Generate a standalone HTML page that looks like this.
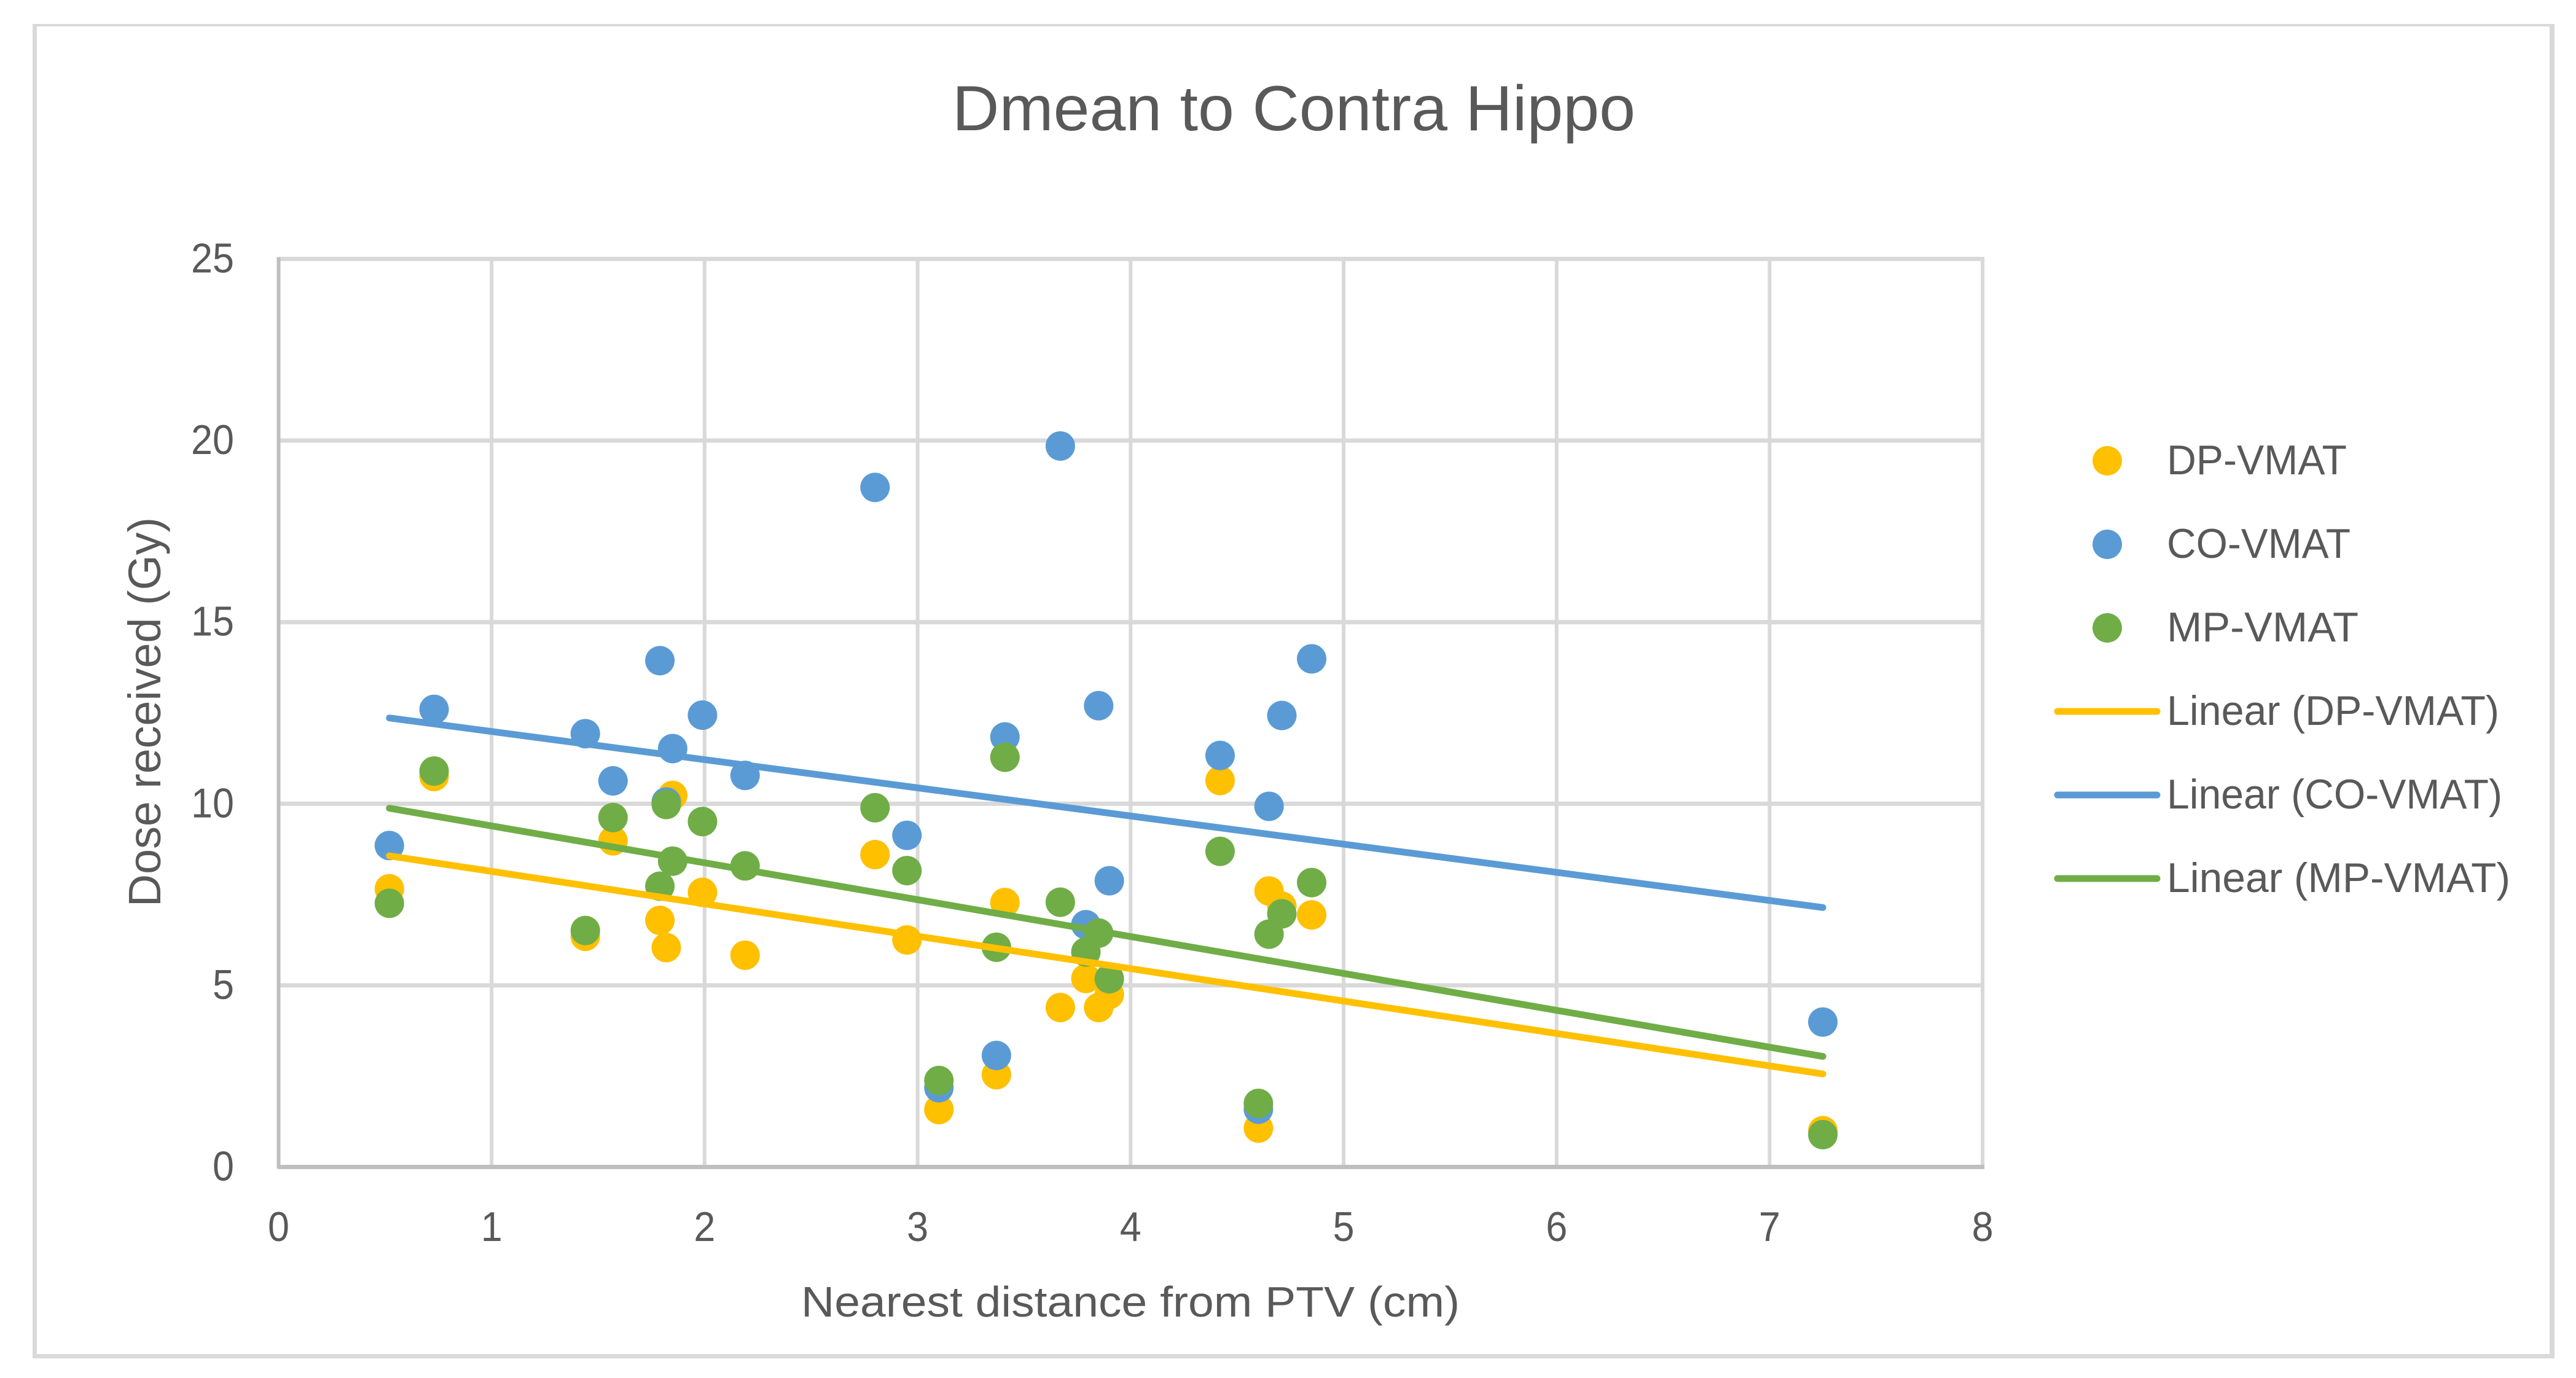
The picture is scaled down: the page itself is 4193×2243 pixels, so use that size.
<!DOCTYPE html>
<html lang="en">
<head>
<meta charset="utf-8">
<title>Dmean to Contra Hippo</title>
<style>
  html, body { margin: 0; padding: 0; background: #ffffff; }
  svg { display: block; }
  text { font-family: "Liberation Sans", sans-serif; fill: #595959; }
</style>
</head>
<body>
<svg id="chart" xmlns="http://www.w3.org/2000/svg" width="4193" height="2243" viewBox="0 0 4193 2243">
  <rect x="0" y="0" width="4193" height="2243" fill="#ffffff"></rect>
  <g>
    <rect x="53" y="39" width="4105" height="4" fill="#d9d9d9"></rect>
    <rect x="53" y="39" width="7" height="2172" fill="#d9d9d9"></rect>
    <rect x="4150" y="39" width="8" height="2172" fill="#d9d9d9"></rect>
    <rect x="53" y="2204" width="4105" height="7" fill="#d9d9d9"></rect>
  </g>
  <text x="2106" y="212" font-size="104" text-anchor="middle" textLength="1112" lengthAdjust="spacingAndGlyphs">Dmean to Contra Hippo</text>
  <g id="grid"></g>
  <g id="axes"></g>
  <g id="series"></g>
  <g id="trends"></g>
  <text transform="translate(261 1159) rotate(-90)" font-size="74" text-anchor="middle" textLength="634" lengthAdjust="spacingAndGlyphs">Dose received (Gy)</text>
  <text x="1840" y="2143" font-size="70" text-anchor="middle" textLength="1072" lengthAdjust="spacingAndGlyphs">Nearest distance from PTV (cm)</text>
  <g id="legend"></g>
</svg>
<script>
const xTicks = [0, 1, 2, 3, 4, 5, 6, 7, 8];
const yTicks = [0, 5, 10, 15, 20, 25];
const distances = [0.52, 0.73, 1.44, 1.57, 1.79, 1.82, 1.85, 1.99, 2.19, 2.80, 2.95, 3.10, 3.37, 3.41, 3.67, 3.79, 3.85, 3.90, 4.42, 4.60, 4.65, 4.71, 4.85, 7.25];
const dpVmat = [7.66, 10.75, 6.35, 8.98, 6.79, 6.04, 10.23, 7.56, 5.83, 8.60, 6.25, 1.58, 2.54, 7.28, 4.39, 5.19, 4.39, 4.75, 10.64, 1.07, 7.60, 7.18, 6.94, 1.00];
const coVmat = [8.85, 12.60, 11.93, 10.63, 13.94, 10.05, 11.52, 12.44, 10.78, 18.71, 9.13, 2.18, 3.07, 11.84, 19.85, 6.67, 12.70, 7.88, 11.33, 1.59, 9.93, 12.43, 13.99, 3.99];
const mpVmat = [7.26, 10.90, 6.51, 9.62, 7.73, 9.98, 8.42, 9.51, 8.29, 9.89, 8.16, 2.38, 6.05, 11.28, 7.29, 5.92, 6.44, 5.18, 8.69, 1.75, 6.41, 6.97, 7.83, 0.89];
const seriesNames = ["DP-VMAT", "CO-VMAT", "MP-VMAT"];
const legendLabels = ["DP-VMAT", "CO-VMAT", "MP-VMAT", "Linear (DP-VMAT)", "Linear (CO-VMAT)", "Linear (MP-VMAT)"];

const SVG_NS = "http://www.w3.org/2000/svg";
const COLORS = ["#FFC000", "#5B9BD5", "#70AD47"];
const LEGEND_WIDTHS = [290, 296, 309, 538, 543, 556];
const xOf = function (v) { return 453.5 + 346.7 * v; };
const yOf = function (v) { return 1899.5 - 59.12 * v; };

function make(tag, attrs, parent, text) {
  const el = document.createElementNS(SVG_NS, tag);
  Object.keys(attrs).forEach(function (k) { el.setAttribute(k, attrs[k]); });
  if (text !== undefined) { el.textContent = text; }
  parent.appendChild(el);
  return el;
}

function regression(xs, ys) {
  const n = xs.length;
  let sx = 0, sy = 0, sxy = 0, sxx = 0;
  for (let i = 0; i < n; i++) {
    sx += xs[i]; sy += ys[i]; sxy += xs[i] * ys[i]; sxx += xs[i] * xs[i];
  }
  const slope = (n * sxy - sx * sy) / (n * sxx - sx * sx);
  const intercept = (sy - slope * sx) / n;
  return { slope: slope, intercept: intercept };
}

const gridG = document.getElementById("grid");
const axesG = document.getElementById("axes");
const seriesG = document.getElementById("series");
const trendsG = document.getElementById("trends");
const legendG = document.getElementById("legend");

xTicks.forEach(function (t) {
  if (t !== xTicks[0]) {
    const line = make("line", { x1: xOf(t), x2: xOf(t), y1: yOf(25), y2: yOf(0), stroke: "#d9d9d9", "stroke-width": 6 }, gridG);
    
    
  }
  const label = make("text", { x: xOf(t), y: 2020, "font-size": 68, "text-anchor": "middle", textLength: 35, lengthAdjust: "spacingAndGlyphs" }, axesG, String(t));
  
  
});

yTicks.forEach(function (t) {
  if (t !== yTicks[0]) {
    const line = make("line", { x1: xOf(0), x2: xOf(8) + 3, y1: yOf(t), y2: yOf(t), stroke: "#d9d9d9", "stroke-width": 7 }, gridG);
    
    
  }
  const s = String(t);
  const label = make("text", { x: 381, y: yOf(t) + 22, "font-size": 68, "text-anchor": "end", textLength: 35 * s.length, lengthAdjust: "spacingAndGlyphs" }, axesG, s);
  
  
});

const yAxisLine = make("line", { x1: xOf(0), x2: xOf(0), y1: yOf(25) - 3, y2: yOf(0) + 3, stroke: "#bfbfbf", "stroke-width": 6 }, axesG);


const xAxisLine = make("line", { x1: xOf(0), x2: xOf(8) + 3, y1: yOf(0), y2: yOf(0), stroke: "#bfbfbf", "stroke-width": 7 }, axesG);



[dpVmat, coVmat, mpVmat].forEach(function (values, si) {
  const g = make("g", { fill: COLORS[si] }, seriesG);
  
  
  values.forEach(function (v, i) {
    const dot = make("circle", { cx: xOf(distances[i]), cy: yOf(v), r: 24 }, g);
    
    
  });
});

[dpVmat, coVmat, mpVmat].forEach(function (values, si) {
  const fit = regression(distances, values);
  const x0 = Math.min.apply(null, distances);
  const x1 = Math.max.apply(null, distances);
  const line = make("line", {
    x1: xOf(x0), y1: yOf(fit.slope * x0 + fit.intercept),
    x2: xOf(x1), y2: yOf(fit.slope * x1 + fit.intercept),
    stroke: COLORS[si], "stroke-width": 11, "stroke-linecap": "round"
  }, trendsG);
  
  
});

legendLabels.forEach(function (name, i) {
  const cy = 750 + 136 * i;
  const entry = make("g", {}, legendG);
  
  
  if (i < 3) {
    const swatch = make("circle", { cx: 3430, cy: cy, r: 24, fill: COLORS[i] }, entry);
    
    
  } else {
    const swatch = make("line", { x1: 3349, x2: 3511, y1: cy, y2: cy, stroke: COLORS[i - 3], "stroke-width": 11, "stroke-linecap": "round" }, entry);
    
    
  }
  const label = make("text", { x: 3527, y: cy + 22, "font-size": 68, textLength: LEGEND_WIDTHS[i] + 3, lengthAdjust: "spacingAndGlyphs" }, entry, name);
  
  
});
</script>
</body>
</html>
